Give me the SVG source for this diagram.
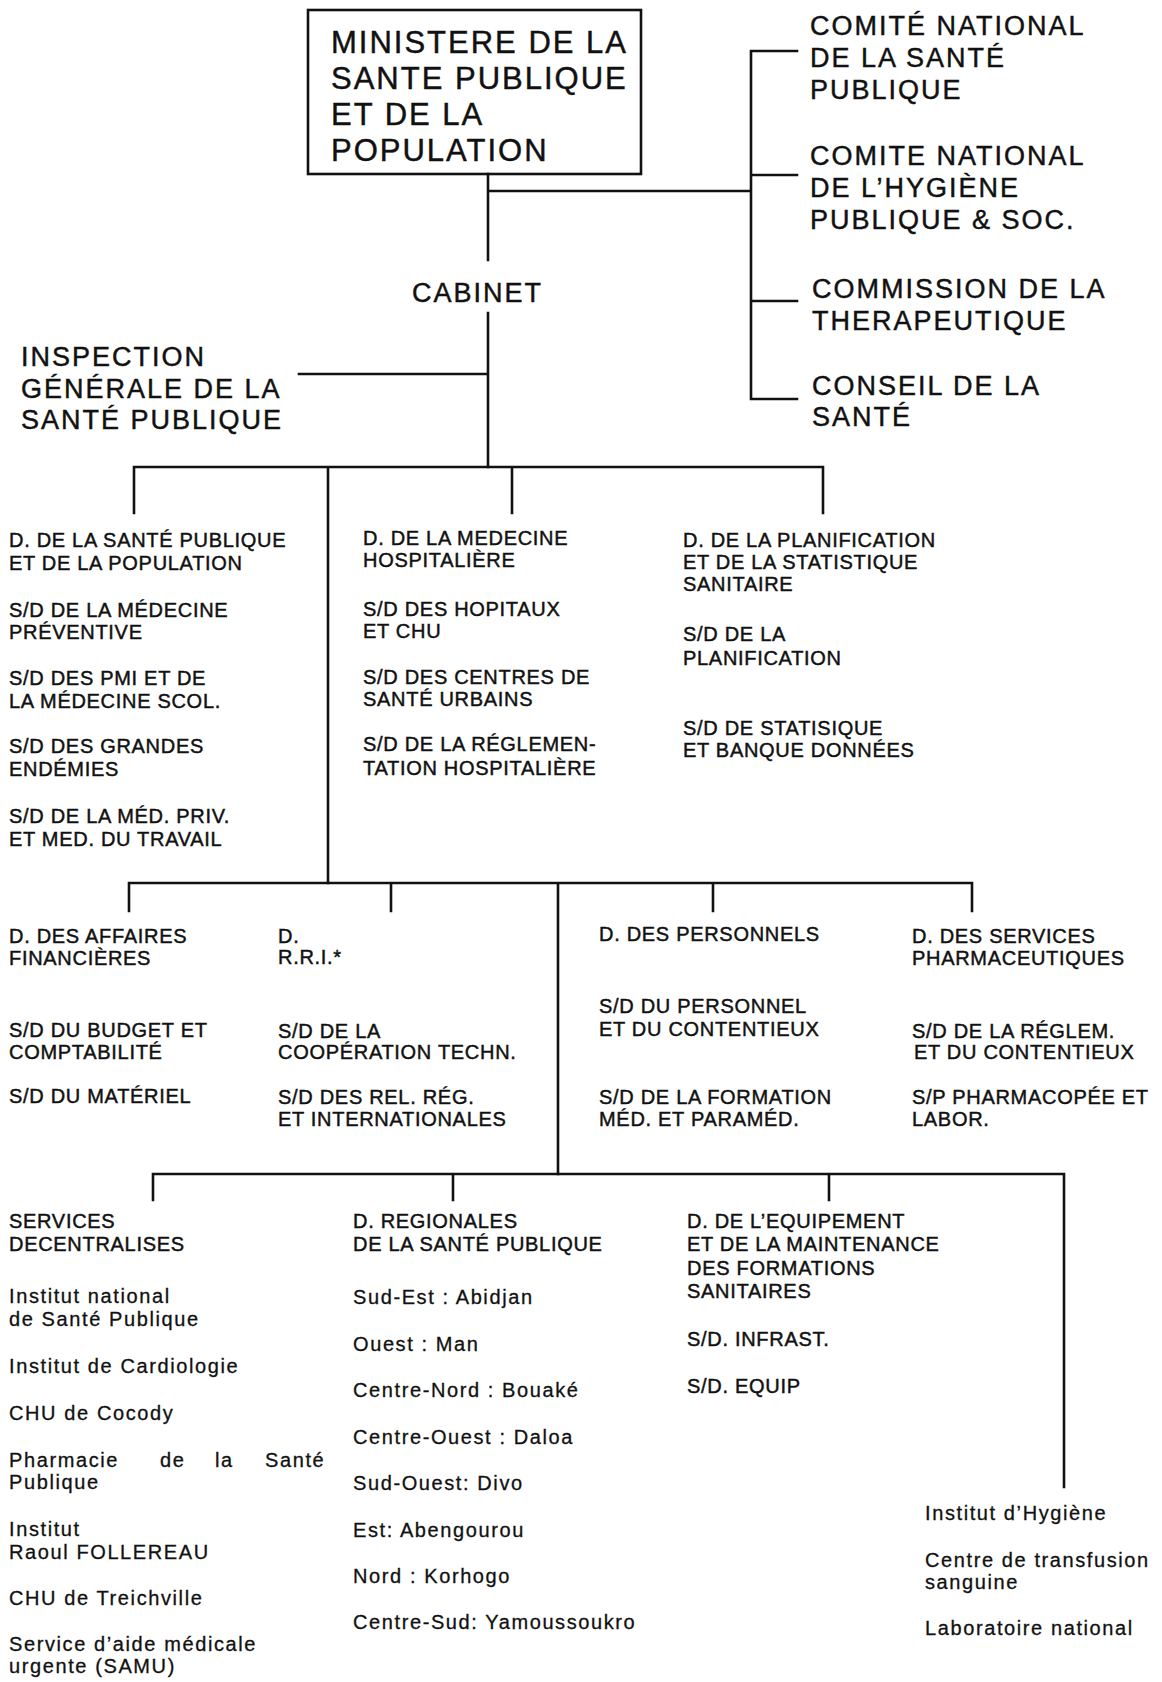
<svg xmlns="http://www.w3.org/2000/svg" width="1162" height="1682" viewBox="0 0 1162 1682">
<style>
text{font-family:"Liberation Sans",Arial,sans-serif;fill:#111;stroke:#111;stroke-width:0.45}
.big{font-size:27px;letter-spacing:2px}
.box{font-size:31px;letter-spacing:2px}
.sm{font-size:20px;letter-spacing:0.7px}
.lc{font-size:20px;letter-spacing:1.6px;stroke-width:0.3}
.ln{stroke:#111;stroke-width:2.6;fill:none;stroke-linecap:square}
</style>
<rect width="1162" height="1682" fill="#fff"/>
<g id="connectors" class="ln">
<path class="ln" d="M488 174V260M488 191H751M751 51V399M751 51H797M751 175H797M751 301H797M751 399H797"/>
<path class="ln" d="M488 313V467M299 374H488"/>
<path class="ln" d="M134 467H823M134 467V513M512 467V513M823 467V513M328 467V883"/>
<path class="ln" d="M129 883H972M129 883V911M391 883V911M713 883V911M972 883V911M558 883V1174"/>
<path class="ln" d="M153 1174H1064M153 1174V1200M453 1174V1200M829 1174V1200M1064 1174V1487"/>
</g>
<g id="ministere">
<rect x="308" y="10" width="333" height="164" fill="none" stroke="#111" stroke-width="2.6"/>
<text class="box" x="331" y="53">MINISTERE DE LA</text>
<text class="box" x="331" y="89">SANTE PUBLIQUE</text>
<text class="box" x="331" y="125">ET DE LA</text>
<text class="box" x="331" y="161">POPULATION</text>
</g>
<g id="comite-sante">
<text class="big" x="810" y="35">COMITÉ NATIONAL</text>
<text class="big" x="810" y="67">DE LA SANTÉ</text>
<text class="big" x="810" y="99">PUBLIQUE</text>
</g>
<g id="comite-hygiene">
<text class="big" x="810" y="165">COMITE NATIONAL</text>
<text class="big" x="810" y="197">DE L’HYGIÈNE</text>
<text class="big" x="810" y="229">PUBLIQUE &amp; SOC.</text>
</g>
<g id="commission">
<text class="big" x="812" y="298">COMMISSION DE LA</text>
<text class="big" x="812" y="330">THERAPEUTIQUE</text>
</g>
<g id="conseil">
<text class="big" x="812" y="395">CONSEIL DE LA</text>
<text class="big" x="812" y="426">SANTÉ</text>
</g>
<g id="cabinet">
<text class="big" x="412" y="302">CABINET</text>
</g>
<g id="inspection">
<text class="big" x="21" y="366">INSPECTION</text>
<text class="big" x="21" y="398">GÉNÉRALE DE LA</text>
<text class="big" x="21" y="429">SANTÉ PUBLIQUE</text>
</g>
<g id="d-sante-publique">
<text class="sm" x="9" y="547">D. DE LA SANTÉ PUBLIQUE</text>
<text class="sm" x="9" y="570">ET DE LA POPULATION</text>
<text class="sm" x="9" y="617">S/D DE LA MÉDECINE</text>
<text class="sm" x="9" y="639">PRÉVENTIVE</text>
<text class="sm" x="9" y="685">S/D DES PMI ET DE</text>
<text class="sm" x="9" y="708">LA MÉDECINE SCOL.</text>
<text class="sm" x="9" y="753">S/D DES GRANDES</text>
<text class="sm" x="9" y="776">ENDÉMIES</text>
<text class="sm" x="9" y="823">S/D DE LA MÉD. PRIV.</text>
<text class="sm" x="9" y="846">ET MED. DU TRAVAIL</text>
</g>
<g id="d-medecine-hospitaliere">
<text class="sm" x="363" y="545">D. DE LA MEDECINE</text>
<text class="sm" x="363" y="567">HOSPITALIÈRE</text>
<text class="sm" x="363" y="616">S/D DES HOPITAUX</text>
<text class="sm" x="363" y="638">ET CHU</text>
<text class="sm" x="363" y="684">S/D DES CENTRES DE</text>
<text class="sm" x="363" y="706">SANTÉ URBAINS</text>
<text class="sm" x="363" y="751">S/D DE LA RÉGLEMEN-</text>
<text class="sm" x="363" y="775">TATION HOSPITALIÈRE</text>
</g>
<g id="d-planification">
<text class="sm" x="683" y="547">D. DE LA PLANIFICATION</text>
<text class="sm" x="683" y="569">ET DE LA STATISTIQUE</text>
<text class="sm" x="683" y="591">SANITAIRE</text>
<text class="sm" x="683" y="641">S/D DE LA</text>
<text class="sm" x="683" y="665">PLANIFICATION</text>
<text class="sm" x="683" y="735">S/D DE STATISIQUE</text>
<text class="sm" x="683" y="757">ET BANQUE DONNÉES</text>
</g>
<g id="d-affaires-financieres">
<text class="sm" x="9" y="943">D. DES AFFAIRES</text>
<text class="sm" x="9" y="965">FINANCIÈRES</text>
<text class="sm" x="9" y="1037">S/D DU BUDGET ET</text>
<text class="sm" x="9" y="1059">COMPTABILITÉ</text>
<text class="sm" x="9" y="1103">S/D DU MATÉRIEL</text>
</g>
<g id="d-rri">
<text class="sm" x="278" y="943">D.</text>
<text class="sm" x="278" y="964">R.R.I.*</text>
<text class="sm" x="278" y="1038">S/D DE LA</text>
<text class="sm" x="278" y="1059">COOPÉRATION TECHN.</text>
<text class="sm" x="278" y="1104">S/D DES REL. RÉG.</text>
<text class="sm" x="278" y="1126">ET INTERNATIONALES</text>
</g>
<g id="d-personnels">
<text class="sm" x="599" y="941">D. DES PERSONNELS</text>
<text class="sm" x="599" y="1013">S/D DU PERSONNEL</text>
<text class="sm" x="599" y="1036">ET DU CONTENTIEUX</text>
<text class="sm" x="599" y="1104">S/D DE LA FORMATION</text>
<text class="sm" x="599" y="1126">MÉD. ET PARAMÉD.</text>
</g>
<g id="d-services-pharmaceutiques">
<text class="sm" x="912" y="943">D. DES SERVICES</text>
<text class="sm" x="912" y="965">PHARMACEUTIQUES</text>
<text class="sm" x="912" y="1038">S/D DE LA RÉGLEM.</text>
<text class="sm" x="914" y="1059">ET DU CONTENTIEUX</text>
<text class="sm" x="912" y="1104">S/P PHARMACOPÉE ET</text>
<text class="sm" x="912" y="1126">LABOR.</text>
</g>
<g id="services-decentralises">
<text class="sm" x="9" y="1228">SERVICES</text>
<text class="sm" x="9" y="1251">DECENTRALISES</text>
<text class="lc" x="9" y="1303">Institut national</text>
<text class="lc" x="9" y="1326">de Santé Publique</text>
<text class="lc" x="9" y="1373">Institut de Cardiologie</text>
<text class="lc" x="9" y="1420">CHU de Cocody</text>
<text class="lc" y="1467"><tspan x="9">Pharmacie</tspan><tspan x="160">de</tspan><tspan x="215">la</tspan><tspan x="265">Santé</tspan></text>
<text class="lc" x="9" y="1489">Publique</text>
<text class="lc" x="9" y="1536">Institut</text>
<text class="lc" x="9" y="1559">Raoul FOLLEREAU</text>
<text class="lc" x="9" y="1605">CHU de Treichville</text>
<text class="lc" x="9" y="1651">Service d’aide médicale</text>
<text class="lc" x="9" y="1673">urgente (SAMU)</text>
</g>
<g id="d-regionales">
<text class="sm" x="353" y="1228">D. REGIONALES</text>
<text class="sm" x="353" y="1251">DE LA SANTÉ PUBLIQUE</text>
<text class="lc" x="353" y="1304">Sud-Est : Abidjan</text>
<text class="lc" x="353" y="1351">Ouest : Man</text>
<text class="lc" x="353" y="1397">Centre-Nord : Bouaké</text>
<text class="lc" x="353" y="1444">Centre-Ouest : Daloa</text>
<text class="lc" x="353" y="1490">Sud-Ouest: Divo</text>
<text class="lc" x="353" y="1537">Est: Abengourou</text>
<text class="lc" x="353" y="1583">Nord : Korhogo</text>
<text class="lc" x="353" y="1629">Centre-Sud: Yamoussoukro</text>
</g>
<g id="d-equipement">
<text class="sm" x="687" y="1228">D. DE L’EQUIPEMENT</text>
<text class="sm" x="687" y="1251">ET DE LA MAINTENANCE</text>
<text class="sm" x="687" y="1275">DES FORMATIONS</text>
<text class="sm" x="687" y="1298">SANITAIRES</text>
<text class="sm" x="687" y="1346">S/D. INFRAST.</text>
<text class="sm" x="687" y="1393">S/D. EQUIP</text>
</g>
<g id="instituts">
<text class="lc" x="925" y="1520">Institut d’Hygiène</text>
<text class="lc" x="925" y="1567">Centre de transfusion</text>
<text class="lc" x="925" y="1589">sanguine</text>
<text class="lc" x="925" y="1635">Laboratoire national</text>
</g>
</svg>
